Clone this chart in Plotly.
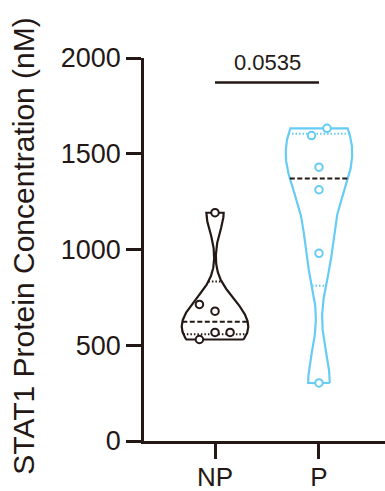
import numpy as np
import plotly.graph_objects as go

# ---- data -------------------------------------------------------------
groups = ["NP", "P"]
np_values = [530, 567, 567, 678, 713, 1192]
p_values = [303, 980, 1312, 1430, 1595, 1633]
p_label = "0.0535"
y_ticks = [0, 500, 1000, 1500, 2000]
y_title = "STAT1 Protein Concentration (nM)"

# ---- style ------------------------------------------------------------
INK = "#231815"
BLUE = "#66CCF5"
FONT = "Liberation Sans, Arial, sans-serif"
HALF_WIDTH = 0.32           # max half width of a violin, category units

series = [
    dict(values=np_values, color=INK, bw=95,
         jitter=[-0.15, 0.0, 0.145, 0.0, -0.15, 0.0]),
    dict(values=p_values, color=BLUE, bw=172,
         jitter=[0.0, 0.0, 0.0, 0.0, -0.072, 0.077]),
]


def density(values, grid, bw):
    v = np.asarray(values, float)[:, None]
    return np.exp(-0.5 * ((grid[None, :] - v) / bw) ** 2).sum(axis=0)


fig = go.Figure()

for xc, s in enumerate(series):
    vals = np.sort(np.asarray(s["values"], float))
    grid = np.linspace(vals.min(), vals.max(), 300)
    dens = density(vals, grid, s["bw"])
    peak = dens.max()
    half = HALF_WIDTH * dens / peak

    # violin outline (closed, flat ends at min / max)
    xs = np.concatenate([xc + half, (xc - half)[::-1], [xc + half[0]]])
    ys = np.concatenate([grid, grid[::-1], [grid[0]]])
    fig.add_trace(go.Scatter(x=xs, y=ys, mode="lines",
                             line=dict(color=s["color"], width=2.2),
                             hoverinfo="skip"))

    # quartiles (dotted) and median (dashed) spanning the violin width
    q1, med, q3 = np.percentile(vals, [25, 50, 75], method="weibull")
    for q, dash, col in [(q1, "1.5px,2px", s["color"]),
                         (q3, "1.5px,2px", s["color"]),
                         (med, "5px,2.5px", INK)]:
        w = HALF_WIDTH * density(vals, np.array([q]), s["bw"])[0] / peak
        fig.add_trace(go.Scatter(x=[xc - w, xc + w], y=[q, q], mode="lines",
                                 line=dict(color=col, width=2, dash=dash),
                                 hoverinfo="skip"))

    # individual observations
    fig.add_trace(go.Scatter(
        x=xc + np.asarray(s["jitter"]), y=vals, mode="markers",
        marker=dict(symbol="circle", size=7.5, color="white",
                    line=dict(color=s["color"], width=2)),
    ))

# significance bracket
fig.add_shape(type="line", x0=0, x1=1, y0=1872, y1=1872,
              line=dict(color=INK, width=2.5))
fig.add_annotation(x=0.5, y=1872, text=p_label, showarrow=False,
                   yanchor="bottom", yshift=6,
                   font=dict(family=FONT, size=22, color=INK))

# y-axis title, rotated, left of the tick labels
fig.add_annotation(xref="paper", yref="paper", x=-0.498, y=0.51,
                   text=y_title, textangle=-90, showarrow=False,
                   xanchor="center", yanchor="middle",
                   font=dict(family=FONT, size=30, color=INK))

axis_common = dict(showline=True, linecolor=INK, linewidth=2.5,
                   ticks="outside", ticklen=15, tickwidth=2.5, tickcolor=INK,
                   showgrid=False, zeroline=False, automargin=False)

fig.update_layout(
    width=385, height=491,
    margin=dict(l=144, r=0, t=58, b=50),
    plot_bgcolor="white", paper_bgcolor="white",
    showlegend=False,
    xaxis=dict(range=[-0.683, 1.635], tickvals=[0, 1], ticktext=groups,
               ticklabelstandoff=-4,
               tickfont=dict(family=FONT, size=26, color=INK),
               **axis_common),
    yaxis=dict(range=[0, 2000], tickvals=y_ticks,
               ticktext=[str(t) for t in y_ticks],
               tickfont=dict(family=FONT, size=27, color=INK),
               **axis_common),
)

fig.write_html("out.html")
